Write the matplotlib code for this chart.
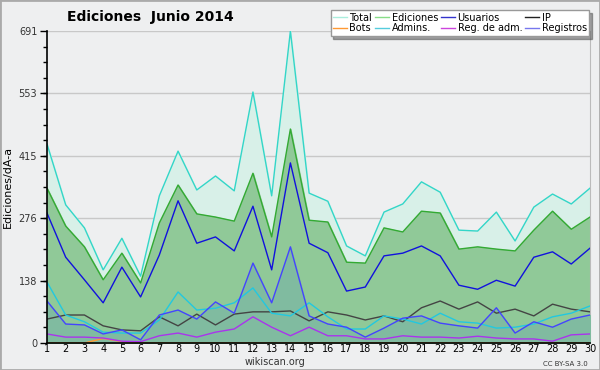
import matplotlib.pyplot as plt
from matplotlib.patches import Rectangle
from matplotlib.ticker import FixedLocator, MultipleLocator

dias = list(range(1, 31))
total = [441, 306, 255, 162, 232, 148, 326, 425, 339, 370, 337, 556, 326, 691, 332,
         314, 215, 193, 290, 308, 357, 334, 250, 248, 290, 226, 301, 330, 308, 343]
ediciones = [343, 259, 213, 140, 199, 133, 266, 350, 286, 279, 270, 376, 235, 474, 272,
             268, 179, 177, 255, 246, 292, 288, 208, 213, 208, 204, 250, 292, 252, 279]
usuarios = [288, 190, 140, 89, 168, 102, 195, 315, 221, 235, 204, 303, 162, 399, 221,
            200, 115, 124, 193, 199, 215, 193, 128, 119, 139, 126, 190, 202, 175, 210]
ip = [53, 62, 62, 38, 29, 27, 58, 38, 64, 40, 64, 69, 69, 71, 49,
      69, 62, 51, 60, 47, 78, 93, 75, 91, 66, 75, 60, 86, 75, 69]
bots = [0, 0, 0, 10, 3, 0, 0, 0, 0, 0, 0, 0, 0, 0, 0,
        0, 0, 0, 0, 0, 0, 0, 0, 0, 0, 0, 0, 0, 0, 0]
admins = [135, 62, 47, 24, 22, 22, 51, 113, 73, 77, 89, 122, 66, 60, 89,
          58, 31, 31, 60, 53, 42, 66, 47, 44, 33, 35, 42, 58, 66, 82]
reg_adm = [20, 13, 13, 11, 4, 3, 16, 22, 13, 24, 31, 58, 35, 16, 35,
           16, 16, 9, 9, 16, 13, 13, 11, 15, 11, 9, 9, 4, 18, 20]
registros = [93, 42, 40, 20, 29, 7, 62, 73, 53, 91, 66, 177, 89, 213, 60,
             42, 35, 13, 33, 55, 60, 44, 38, 33, 78, 22, 47, 35, 53, 62]
yticks = [0, 138, 276, 415, 553, 691]

bg = '#eeeff0'
fig = plt.figure(figsize=(6, 3.7), dpi=100, facecolor=bg)
fig.patches.append(Rectangle((0, 0), 1, 1, transform=fig.transFigure, fill=False,
                             edgecolor='#aaaaaa', linewidth=2))
ax = fig.add_axes([0.0783, 0.073, 0.905, 0.843])
ax.set_facecolor(bg)

ax.fill_between(dias, total, color='#d8f0e8', zorder=1)
ax.fill_between(dias, ediciones, color='#90c998', zorder=2)
ax.fill_between(dias, registros, color='#80bba0', zorder=3)

ax.plot(dias, bots, color='#ff9933', lw=1, zorder=3.5)
ax.plot(dias, total, color='#33d6c8', lw=1, zorder=6)
ax.plot(dias, ediciones, color='#33aa33', lw=1, zorder=6)
ax.plot(dias, usuarios, color='#1111dd', lw=1, zorder=6)
ax.plot(dias, ip, color='#444444', lw=1, zorder=6)
ax.plot(dias, admins, color='#22c8e0', lw=1, zorder=6)
ax.plot(dias, registros, color='#4444ff', lw=1, zorder=6)
ax.plot(dias, reg_adm, color='#aa33ee', lw=1, zorder=6)

ax.set_xlim(1, 30)
ax.set_ylim(0, 691)
ax.set_xticks(dias)
ax.set_xticklabels([str(d) for d in dias], fontsize=7)
ax.yaxis.set_major_locator(FixedLocator(yticks))
ax.yaxis.set_minor_locator(MultipleLocator(691 / 20))
ax.set_yticklabels([str(v) for v in yticks], fontsize=7, color='#333333')
ax.tick_params(axis='y', which='major', length=5, width=1, pad=2)
ax.tick_params(axis='y', which='minor', length=3, width=1)
ax.tick_params(axis='x', length=0, pad=1)
ax.grid(axis='y', color='#c8c8c8', lw=1, zorder=0)
ax.set_axisbelow(True)
ax.spines['top'].set_visible(False)
ax.spines['right'].set_color('#bbbbbb')
ax.spines['left'].set_linewidth(1.2)
ax.spines['bottom'].set_linewidth(1.2)
ax.spines['left'].set_zorder(8)
ax.spines['bottom'].set_zorder(8)

ax.set_ylabel('Ediciones/dÃ-a', fontsize=8, labelpad=4)
fig.text(0.25, 0.955, 'Ediciones  Junio 2014', fontsize=10, fontweight='bold',
         ha='center', va='center')
fig.text(0.458, 0.022, 'wikiscan.org', fontsize=7, ha='center', va='center', color='#333333')
fig.text(0.98, 0.016, 'CC BY-SA 3.0', fontsize=5, ha='right', va='center', color='#333333')

# legend
h = []
labels = ['Total', 'Bots', 'Ediciones', 'Admins.', 'Usuarios', 'Reg. de adm.', 'IP', 'Registros']
colors = ['#aaeedd', '#ff9933', '#88dd88', '#55ccdd', '#3333cc', '#cc44dd', '#222222', '#7777ee']
for c in colors:
    h.append(plt.Line2D([], [], color=c, lw=1))
leg = fig.legend(h, labels, ncol=4, loc='upper right', bbox_to_anchor=(0.99, 0.985),
                 fontsize=7, frameon=True, fancybox=False, shadow=True,
                 handlelength=1.4, handletextpad=0.3, columnspacing=0.3,
                 labelspacing=0.05, borderpad=0.25, edgecolor='#999999')
leg.get_frame().set_linewidth(1)

fig.savefig('out.png', dpi=100, facecolor=bg)
